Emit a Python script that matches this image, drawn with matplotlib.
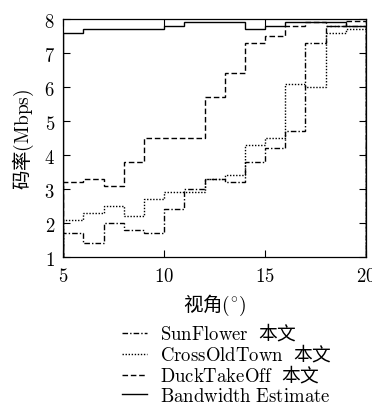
import matplotlib
matplotlib.use("Agg")
import matplotlib.pyplot as plt
from matplotlib.lines import Line2D

plt.rcParams['font.family'] = ['Noto Sans CJK SC', 'DejaVu Sans']
plt.rcParams['mathtext.fontset'] = 'cm'

# Viewing angle bin edges (degrees)
angle_edges = [5, 6, 7, 8, 9, 10, 11, 12, 13, 14, 15, 16, 17, 18, 19, 20]

sunflower = [1.7, 1.4, 2.0, 1.8, 1.7, 2.4, 3.0, 3.3, 3.2, 3.8, 4.2, 4.7, 7.3, 7.8, 7.8]
crossoldtown = [2.1, 2.3, 2.5, 2.2, 2.7, 2.9, 2.9, 3.3, 3.4, 4.3, 4.5, 6.1, 6.0, 7.6, 7.7]
ducktakeoff = [3.2, 3.3, 3.1, 3.8, 4.5, 4.5, 4.5, 5.7, 6.4, 7.3, 7.5, 7.8, 7.9, 7.8, 7.95]
bandwidth = [7.6, 7.7, 7.7, 7.7, 7.7, 7.8, 7.9, 7.9, 7.9, 7.7, 7.8, 7.9, 7.9, 7.9, 7.8]

labels = [r"$\mathrm{SunFlower}\ \ $本文",
          r"$\mathrm{CrossOldTown}\ \ $本文",
          r"$\mathrm{DuckTakeOff}\ \ $本文",
          r"$\mathrm{Bandwidth\ Estimate}$"]

xticks = [5, 10, 15, 20]
yticks = [1, 2, 3, 4, 5, 6, 7, 8]

styles = [(0, (4, 1.5, 1, 1.5)), (0, (1, 1.2)), (0, (4, 2)), '-']
series = [sunflower, crossoldtown, ducktakeoff, bandwidth]

fig = plt.figure(figsize=(3.72, 4.06), dpi=100)
ax = fig.add_axes([0.170, 0.3645, 0.814, 0.5865])

lw = 1.0
for vals, ls, lab in zip(series, styles, labels):
    ax.stairs(vals, angle_edges, color='black', lw=lw, linestyle=ls, label=lab)

ax.set_xlim(5, 20)
ax.set_ylim(1, 8)
ax.set_xticks(xticks)
ax.set_yticks(yticks)
ax.set_xticklabels([f"${t}$" for t in xticks], fontsize=13.5)
ax.set_yticklabels([f"${t}$" for t in yticks], fontsize=13.5)
ax.tick_params(direction='in', length=5, width=0.8, top=True, right=True, pad=6)
for s in ax.spines.values():
    s.set_linewidth(0.9)

ax.set_xlabel(r"视角$(^{\circ})$", fontsize=14, labelpad=4)
ax.set_ylabel(r"码率$(\mathrm{Mbps})$", fontsize=14, labelpad=6)

hs = [Line2D([], [], color='black', lw=lw, linestyle=ls) for ls in styles]
fig.legend(hs, labels, loc='upper left', bbox_to_anchor=(0.327, 0.204),
           frameon=False, fontsize=13.5, handlelength=1.33, handletextpad=0.71,
           labelspacing=-0.06, borderaxespad=0, borderpad=0)

fig.savefig("out.png", dpi=100)
